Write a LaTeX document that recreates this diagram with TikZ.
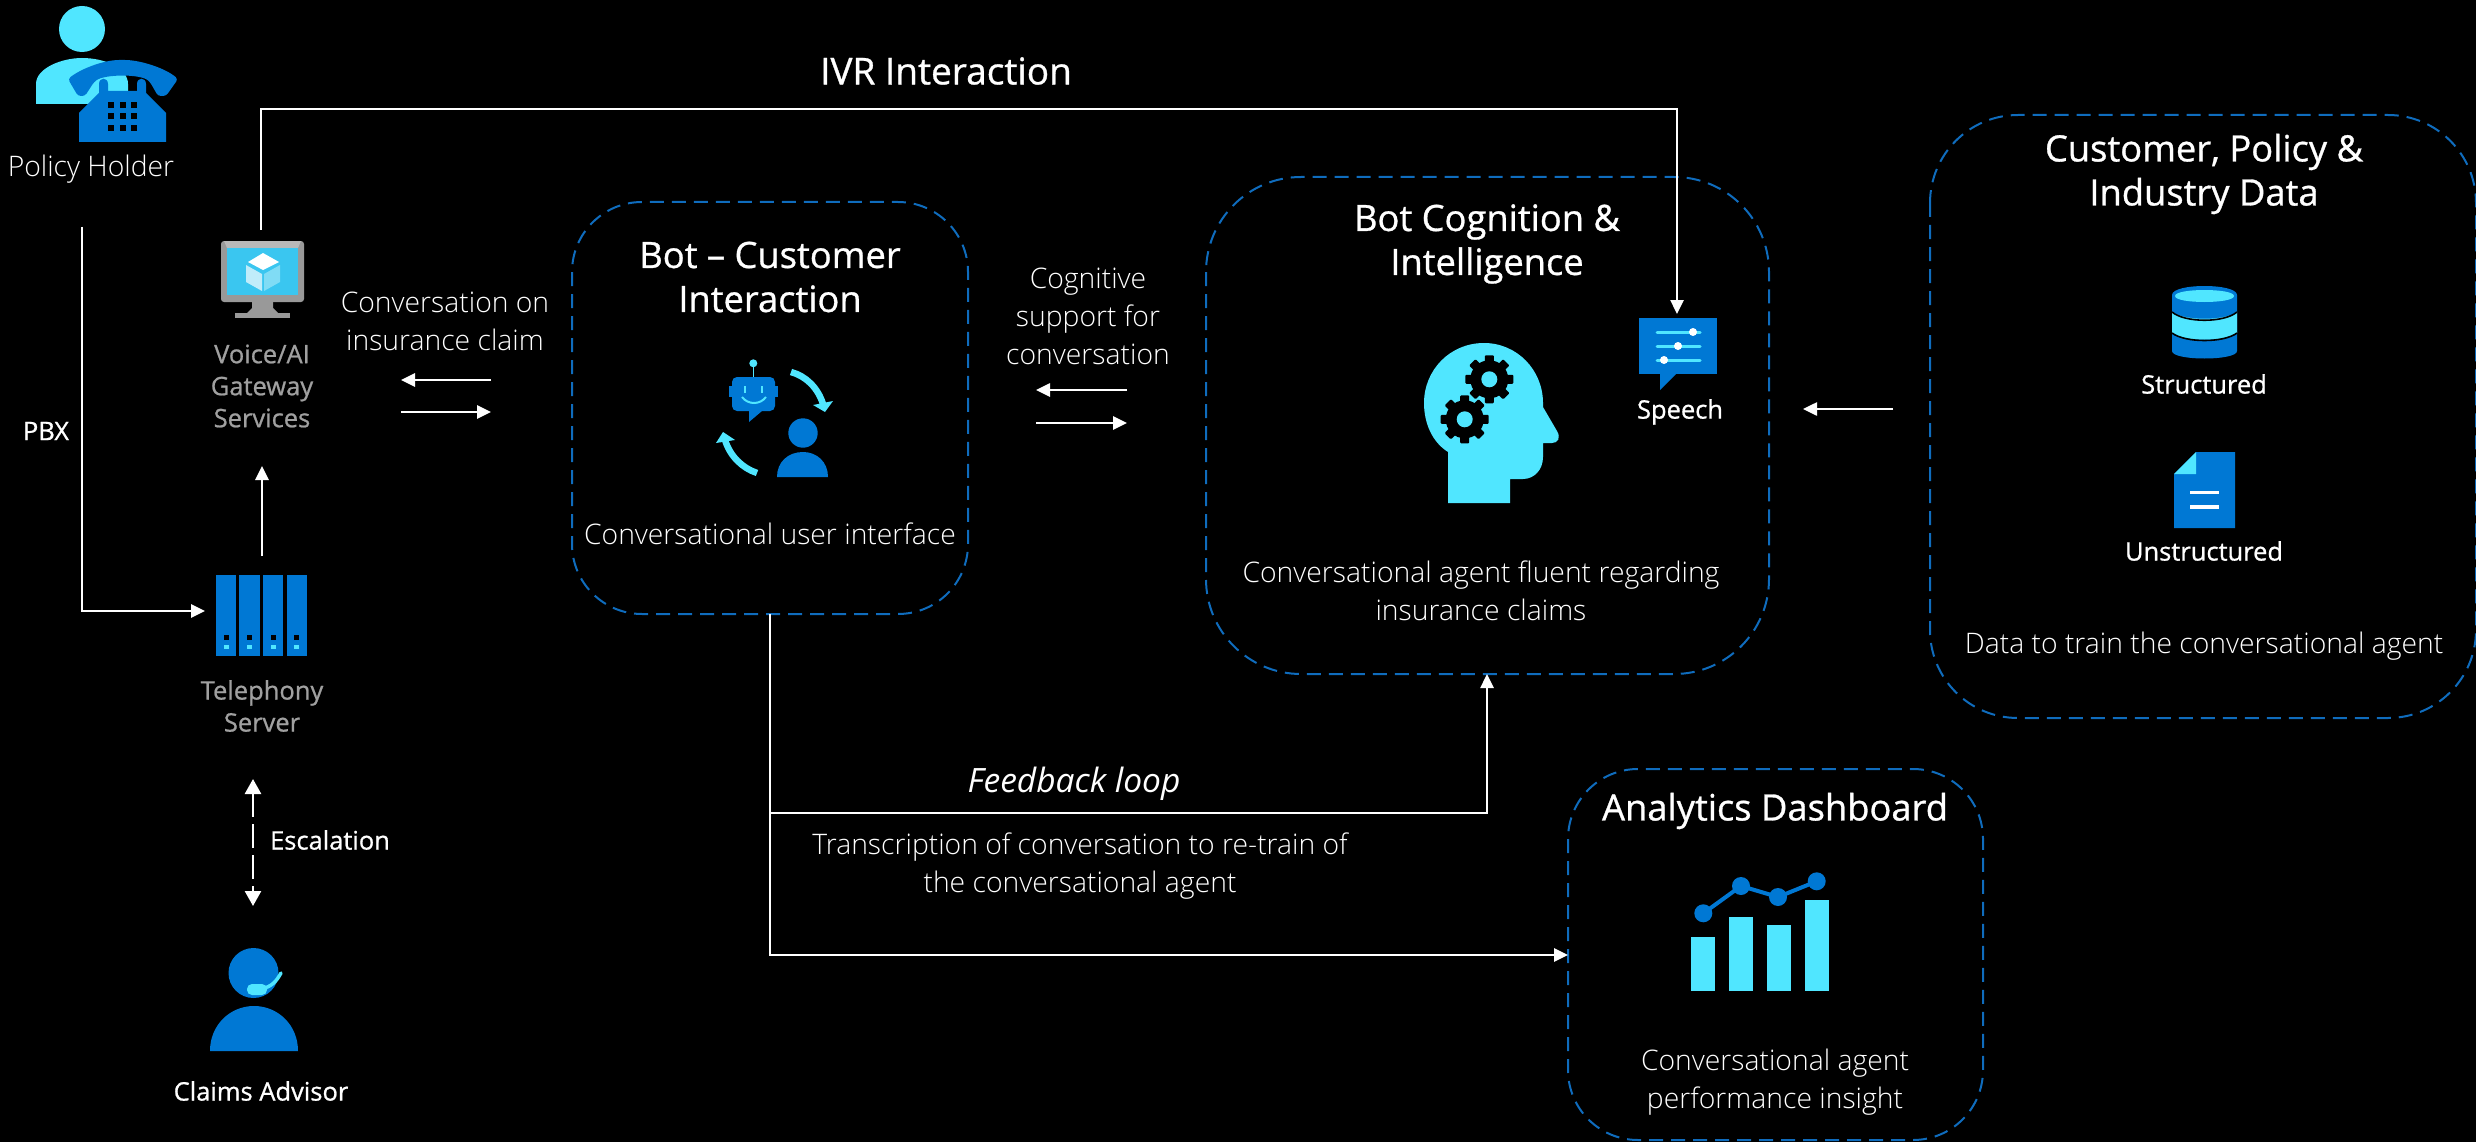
\documentclass[tikz,border=0pt]{standalone}
\usepackage{fontspec}
\setmainfont{Open Sans}
\newfontfamily\lightf{Open Sans Light}
\newfontfamily\semif{Open Sans}[FakeBold=0.8]
\usetikzlibrary{arrows.meta}
\definecolor{azb}{HTML}{0078D4}
\definecolor{azc}{HTML}{50E6FF}
\definecolor{grayt}{HTML}{A0A0A0}
\definecolor{dashb}{HTML}{0F6CBD}
\definecolor{scrn}{HTML}{3AC6F0}
\definecolor{cubl}{HTML}{C0ECFA}
\definecolor{cubr}{HTML}{80DCF5}
\tikzset{
 x=1pt,y=-1pt,
 box/.style={draw=dashb,line width=2pt,dash pattern=on 14pt off 8pt,rounded corners=#1,inner sep=0pt},
 conn/.style={draw=white,line width=2.6pt,-{Triangle[length=14pt,width=13pt]}},
 lt/.style={text=white,align=center,inner sep=0pt,font=\lightf\fontsize{28.3}{38}\selectfont},
 sb/.style={text=white,align=center,inner sep=0pt,font=\semif\fontsize{25.5}{32}\selectfont},
 gb/.style={text=grayt,align=center,inner sep=0pt,font=\semif\fontsize{25.5}{32}\selectfont},
 ttl/.style={text=white,align=center,inner sep=0pt,font=\semif\fontsize{36.3}{44}\selectfont},
}
\newcommand{\geardraw}[2]{%
 \fill[black] (#1,#2) circle[radius=19];
 \foreach \a in {0,45,...,315}{\fill[black,rotate around={\a:(#1,#2)},rounded corners=1pt] (#1-4.5,#2-24) rectangle (#1+4.5,#2-12);}
 \fill[azc] (#1,#2) circle[radius=8];
}
\begin{document}
\begin{tikzpicture}
\useasboundingbox (0,0) rectangle (2476,1142);
\fill[black] (0,0) rectangle (2476,1142);
% boxes
\draw[box=70pt] (572,202) rectangle (968,614);
\draw[box=95pt] (1206,177) rectangle (1769,674);
\draw[box=88pt] (1930,115) rectangle (2476,718);
\draw[box=70pt] (1568,769) rectangle (1983,1140);
\node[inner sep=0pt,minimum size=0pt] (botb) at (770,614) {};
\node[inner sep=0pt] (cogb) at (1487,674) {};
\node[inner sep=0pt] (anab) at (1568,955) {};
% policy holder icon
\fill[azc] (82,29) circle[radius=23];
\fill[azc] (36,104) -- (36,84) .. controls (36,68) and (62,58) .. (82,58) .. controls (105,58) and (128,68) .. (128,84) -- (128,104) -- cycle;
\fill[azb,rounded corners=3pt] (68,79) .. controls (82,68) and (105,60) .. (122,60) .. controls (140,60) and (165,68) .. (178,79) -- (166,96) -- (158,96) -- (150,82) .. controls (140,74) and (105,74) .. (94,82) -- (85,96) -- (78,96) -- cycle;
\fill[azb] (79,142) -- (79,113) -- (99,93) -- (99,84) .. controls (99,77) and (108,77) .. (108,84) -- (108,91) -- (137,91) -- (137,84) .. controls (137,77) and (146,77) .. (146,84) -- (146,93) -- (166,113) -- (166,142) -- cycle;
\foreach \xx in {111,122.5,134}\foreach \yy in {105,116.5,128}{\fill[black] (\xx-3,\yy-3) rectangle (\xx+3,\yy+3);}
% monitor
\fill[black!40] (252,302) -- (273,302) -- (273,308) -- (278,313) -- (247,313) -- (252,308) -- cycle;
\fill[black!40] (235,313) rectangle (290,318);
\fill[black!40,rounded corners=3pt] (221,241) rectangle (304,302);
\fill[black!28] (224,241) -- (301,241) -- (298,248) -- (227,248) -- cycle;
\fill[scrn] (227,248) rectangle (298,295);
\fill[white] (263,253) -- (279,262) -- (263,270) -- (248,262) -- cycle;
\fill[cubl] (246,265) -- (262,274) -- (262,291) -- (246,282) -- cycle;
\fill[cubr] (264,274) -- (280,265) -- (280,282) -- (264,291) -- cycle;
% telephony
\foreach \xa/\xb/\xc in {216/236/226.3,239/260/249.3,263/283/273.3,287/307/296.3}{
 \fill[azb] (\xa,575) rectangle (\xb,656);
 \fill[black] (\xc-2.5,635) rectangle (\xc+2.5,640);
 \fill[azc] (\xc-2.5,645) rectangle (\xc+2.5,649);
}
% claims advisor
\fill[azb] (253.5,973) circle[radius=25];
\fill[azb] (210,1051) .. controls (210,1025) and (230,1006) .. (254,1006) .. controls (278,1006) and (298,1025) .. (298,1051) -- cycle;
\draw[azc,line width=3.5pt,line cap=round] (262,989) .. controls (272,986) and (276,982) .. (281,973);
\fill[azc,rounded corners=5pt] (247,984) rectangle (267,995);
% bot icon
\draw[azc,line width=1.5pt] (753.3,363) -- (753.3,377);
\fill[azc] (753.3,363.3) circle[radius=4];
\fill[azb] (729,386) rectangle (778,397);
\fill[azb,rounded corners=5pt] (732,377) rectangle (775,411);
\fill[azb] (749,411) -- (749,422) -- (762,411) -- cycle;
\draw[azc,line width=2pt] (745,386) -- (745,393) (762,386) -- (762,393);
\draw[azc,line width=2pt] (742,397) .. controls (748,405) and (760,405) .. (766,397);
\fill[azb] (803,433) circle[radius=14.7];
\fill[azb] (777,477) .. controls (777,462) and (788,452) .. (803,452) .. controls (817,452) and (828,462) .. (828,477) -- cycle;
\draw[azc,line width=6.5pt] (791,372) .. controls (806,376) and (818,388) .. (823,404);
\fill[azc] (813,405) -- (833,401) -- (825,412) -- cycle;
\draw[azc,line width=6.5pt] (757,473) .. controls (742,468) and (730,456) .. (725,440);
\fill[azc] (716,443) -- (723,432) -- (735,440) -- cycle;
% head
\fill[azc] (1448,503) -- (1448,452) .. controls (1432,442) and (1424,423) .. (1424,403) .. controls (1424,370) and (1450,343) .. (1484,343) .. controls (1517,343) and (1543,370) .. (1543,403) -- (1543,407) -- (1557,431) .. controls (1561,438) and (1558,443) .. (1552,443) -- (1543,443) -- (1543,457) .. controls (1543,470) and (1534,479) .. (1523,479) -- (1510,479) -- (1510,503) -- cycle;
\geardraw{1489.3}{379.3}
\geardraw{1464.7}{419.3}
% speech
\fill[azb] (1639,318) rectangle (1717,374);
\fill[azb] (1660,374) -- (1660,390) -- (1676,374) -- cycle;
\foreach \yy/\dx in {332/1693,346/1678,360/1664}{
 \draw[azc,line width=3pt,line cap=round] (1657,\yy) -- (1700,\yy);
 \fill[white] (\dx,\yy) circle[radius=4];
}
% database
\fill[azb] (2172,295) .. controls (2172,283) and (2237,283) .. (2237,295) -- (2237,351) .. controls (2237,361) and (2172,361) .. (2172,351) -- cycle;
\fill[azc] (2175,296) .. controls (2175,288) and (2234,288) .. (2234,296) .. controls (2234,304) and (2175,304) .. (2175,296) -- cycle;
\fill[azc] (2172,312) .. controls (2185,321) and (2224,321) .. (2237,312) -- (2237,333) .. controls (2224,342) and (2185,342) .. (2172,333) -- cycle;
\draw[black,line width=1.6pt] (2172,312) .. controls (2185,323) and (2224,323) .. (2237,312);
\draw[black,line width=1.6pt] (2172,333) .. controls (2185,343) and (2224,343) .. (2237,333);
% document
\fill[azb] (2196,452) -- (2235,452) -- (2235,528) -- (2174,528) -- (2174,474) -- cycle;
\fill[azc] (2196,452) -- (2196,474) -- (2174,474) -- cycle;
\fill[white] (2190,490.5) rectangle (2219,494);
\fill[white] (2190,505) rectangle (2219,508.5);
% chart
\foreach \xa/\xb/\yy in {1691/1715/937,1729/1753/917,1767/1791/925,1805/1829/900}{\fill[azc] (\xa,\yy) rectangle (\xb,991);}
\draw[azb,line width=4pt] (1703.3,913.3) -- (1741,886) -- (1778,897) -- (1816.7,881.3);
\foreach \xx/\yy in {1703.3/913.3,1741/886,1778/897,1816.7/881.3}{\fill[azb] (\xx,\yy) circle[radius=9];}
% free-end coordinates
\coordinate (pbxs) at (82,227);
\coordinate (pbxe) at (205,611);
\coordinate (tup) at (262,556);
\coordinate (tupe) at (262,466);
\coordinate (ivrs) at (261,230);
\coordinate (ivrc) at (1677,109);
\coordinate (ivre) at (1677,314);
\coordinate (cl1) at (491,380);\coordinate (cl2) at (401,380);
\coordinate (cr1) at (401,412);\coordinate (cr2) at (491,412);
\coordinate (gl1) at (1127,390);\coordinate (gl2) at (1036,390);
\coordinate (gr1) at (1036,423);\coordinate (gr2) at (1127,423);
\coordinate (d1) at (1893,409);\coordinate (d2) at (1803,409);
\coordinate (esc1) at (253,779);\coordinate (esc2) at (253,906);
\coordinate (fbk) at (770,813);
\draw[conn] (pbxs) |- (pbxe);
\draw[conn] (tup) -- (tupe);
\draw[conn] (ivrs) |- (ivrc) -- (ivre);
\draw[conn] (cl1) -- (cl2);
\draw[conn] (cr1) -- (cr2);
\draw[conn] (gl1) -- (gl2);
\draw[conn] (gr1) -- (gr2);
\draw[conn] (d1) -- (d2);
\draw[conn] (botb.center) |- (anab.center);
\draw[conn] (fbk) -| (cogb.center);
\draw[draw=white,line width=2.6pt,dash pattern=on 24pt off 7pt,{Triangle[length=15pt,width=16pt]}-{Triangle[length=15pt,width=16pt]}] (esc1) -- (esc2);
% text
\node[text=white,align=center,font=\semif\fontsize{37}{40}\selectfont] (ivr) at (946,71) {IVR Interaction};
\node[lt] (ph) at (91,169) {Policy Holder};
\node[sb] (pbx) at (46,431) {PBX};
\node[gb] (vg) at (262,386) {Voice/AI\\Gateway\\Services};
\node[gb] (ts) at (262,706) {Telephony\\Server};
\node[sb] (esc) at (330,840) {Escalation};
\node[sb] (ca) at (261,1091) {Claims Advisor};
\node[lt] (coc) at (445,321) {Conversation on\\insurance claim};
\node[ttl] (bc) at (770,277) {Bot – Customer\\Interaction};
\node[lt] (cui) at (770,534) {Conversational user interface};
\node[lt] (cs) at (1088,316) {Cognitive\\support for\\conversation};
\node[ttl] (bi) at (1487,244) {Bot Cognition \&\\Intelligence};
\node[sb] (sp) at (1680,412) {Speech};
\node[lt] (caf) at (1481,591) {Conversational agent fluent regarding\\insurance claims};
\node[ttl] (cpd) at (2204,174) {Customer, Policy \&\\Industry Data};
\node[sb] (st) at (2204,384) {Structured};
\node[sb] (un) at (2204,551) {Unstructured};
\node[lt] (dt) at (2204,646) {Data to train the conversational agent};
\node[text=white,inner sep=0pt,font=\itshape\fontsize{33.5}{38}\selectfont] (fl) at (1074,784) {Feedback loop};
\node[lt] (tr) at (1080,866) {Transcription of conversation to re-train of\\the conversational agent};
\node[ttl] (ad) at (1775,811) {Analytics Dashboard};
\node[lt] (cap) at (1775,1082) {Conversational agent\\performance insight};
\end{tikzpicture}
\end{document}
